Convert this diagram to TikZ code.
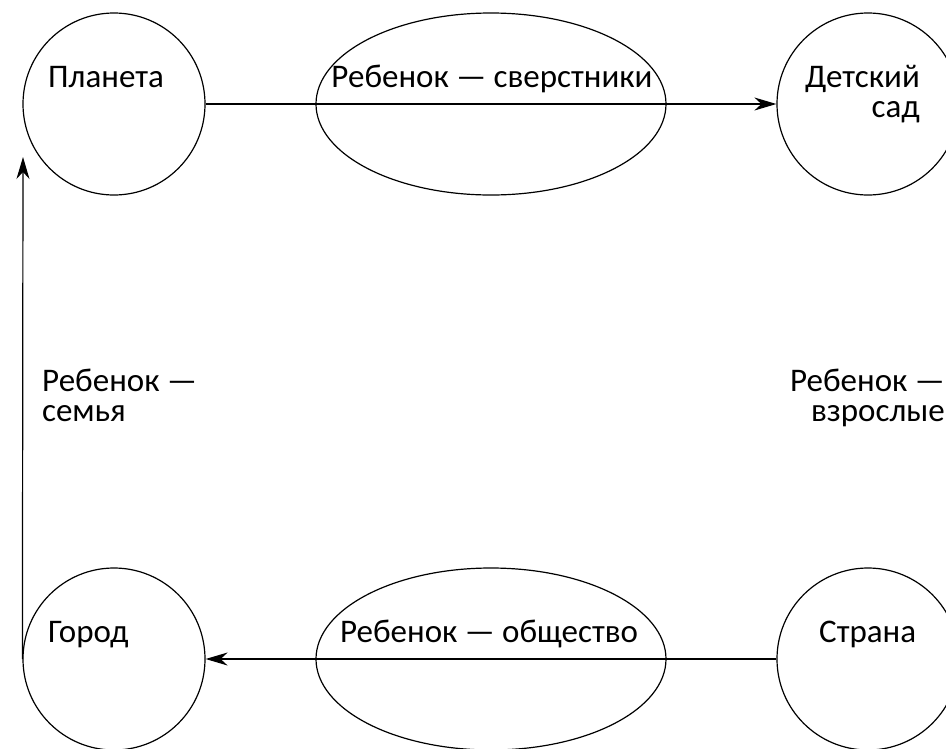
\documentclass[tikz,border=0pt]{standalone}
\usepackage{fontspec}
\setmainfont{Carlito}
\usetikzlibrary{arrows.meta,shapes.geometric}
\tikzset{
>={Stealth[length=22pt,width=13pt,inset=7pt]},
  place/.style={
    circle,
    draw=black, line width=1.2pt,
    minimum size=182pt,
    inner sep=0pt},
  relation/.style={
    ellipse,
    draw=black, line width=1.2pt,
    minimum width=350pt,
    minimum height=182pt,
    inner sep=0pt},
  caption/.style={font=\fontsize{33}{30}\selectfont, inner sep=0pt},
  link/.style={draw, line width=1.2pt, ->},
}
\begin{document}
\begin{tikzpicture}[x=1pt,y=-1pt]
		\useasboundingbox (0,0) rectangle (946,748);

		% places
		\node[place] (planet) at (114,104) {};
		\node[place] (kinder) at (868,104) {};
		\node[place] (city) at (114,659) {};
		\node[place] (country) at (868,659) {};

		% relations
		\node[relation] (peers) at (491,104) {};
		\node[relation] (society) at (491,659) {};

		% links
		\coordinate (planetin) at (23,157);
		\draw[link] (planet.east) -- (kinder.west);
		\draw[link] (country.west) -- (city.east);
		\draw[link] (city.west) -- (planetin);

		% texts (multi-line ones sit on their last line)
		\node[caption, anchor=base west] (planet-t) at (48,87) {Планета};
		\node[caption, anchor=base east, align=right] (kinder-t) at (920,117) {Детский\\сад};
		\node[caption, anchor=base west] (city-t) at (48,642) {Город};
		\node[caption, anchor=base west] (country-t) at (819,642) {Страна};
		\node[caption, anchor=base] (peers-t) at (492,87) {Ребенок — сверстники};
		\node[caption, anchor=base] (society-t) at (489,642) {Ребенок — общество};
		\node[caption, anchor=base west, align=left] (family-t) at (42,421) {Ребенок —\\семья};
		\node[caption, anchor=base east, align=right] (adults-t) at (945,421) {Ребенок —\\взрослые};

	\end{tikzpicture}
\end{document}
